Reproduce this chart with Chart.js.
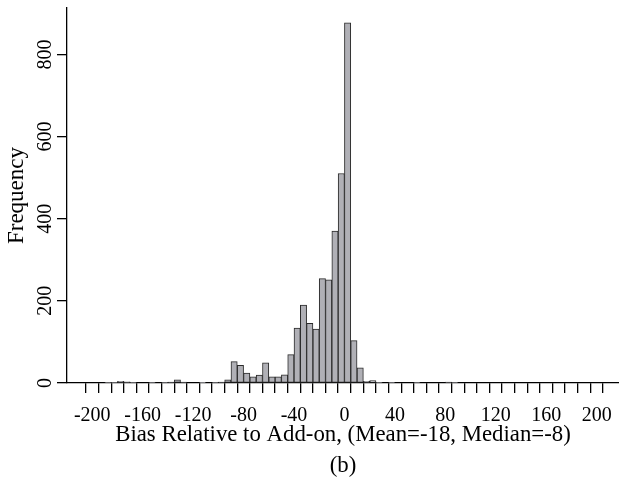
<!DOCTYPE html>
<html>
<head>
<meta charset="utf-8">
<script src="https://cdn.jsdelivr.net/npm/chart.js@4/dist/chart.umd.min.js"></script>
<style>
  html, body { margin: 0; padding: 0; background: #fff; }
  #wrap { width: 619px; height: 485px; }
</style>
</head>
<body>
<div id="wrap"><canvas id="grafico"></canvas></div>
<script>
// histogram bins (left edge of each 5-wide bin) and counts
const binInicio = [
  -200, -195, -190, -185, -180, -175, -170, -165, -160, -155,
  -150, -145, -140, -135, -130, -125, -120, -115, -110, -105,
  -100, -95, -90, -85, -80, -75, -70, -65, -60, -55,
  -50, -45, -40, -35, -30, -25, -20, -15, -10, -5,
  0, 5, 10, 15, 20, 25, 30, 35, 40, 45,
  50, 55, 60, 65, 70, 75, 80, 85, 90, 95,
  100, 105, 110, 115, 120, 125, 130, 135, 140, 145,
  150, 155, 160, 165, 170, 175, 180, 185, 190, 195
];
const frequencias = [
  0, 0, 1, 1, 4, 3, 1, 0, 0, 1,
  0, 1, 2, 8, 2, 0, 0, 1, 0, 1,
  2, 8, 52, 43, 24, 15, 19, 49, 15, 15,
  20, 69, 134, 190, 145, 131, 254, 251, 370, 510,
  877, 103, 37, 4, 6, 1, 0, 1, 0, 0,
  0, 1, 0, 0, 0, 0, 2, 1, 0, 0,
  0, 0, 0, 0, 0, 0, 0, 0, 0, 0,
  0, 0, 0, 0, 0, 0, 0, 0, 0, 0
];
const larguraBin = 5;

// axis ticks
const xTicksRotulados = [-200, -160, -120, -80, -40, 0, 40, 80, 120, 160, 200];
const xTicks = [
  -200, -190, -180, -170, -160, -150, -140, -130, -120, -110,
  -100, -90, -80, -70, -60, -50, -40, -30, -20, -10,
  0, 10, 20, 30, 40, 50, 60, 70, 80, 90,
  100, 110, 120, 130, 140, 150, 160, 170, 180, 190, 200
];
const yTicks = [0, 200, 400, 600, 800];

const tituloX = 'Bias Relative to Add-on, (Mean=-18, Median=-8)';
const legenda = '(b)';
const tituloY = 'Frequency';

const fonte = 'Liberation Serif';

const pontos = binInicio.map((b, i) => ({ x: b + larguraBin / 2, y: frequencias[i] }));

const ctx = document.getElementById('grafico').getContext('2d');
const grafico = new Chart(ctx, {
    type: 'bar',
    data: {
        datasets: [{
            data: pontos,
            backgroundColor: '#b0b0b6',
            borderColor: '#2a2a2a',
            borderWidth: 1,
            borderSkipped: false,
            barPercentage: 1,
            categoryPercentage: 1,
            grouped: false
        }]
    },
    options: {
        responsive: true,
        maintainAspectRatio: false,
        animation: false,
        layout: {
            padding: { top: 7, right: 0, bottom: 0, left: 0 }
        },
        plugins: {
            legend: { display: false },
            tooltip: { enabled: false }
        },
        scales: {
            x: {
                type: 'linear',
                min: -214.7,
                max: 212.4,
                afterBuildTicks: (scale) => {
                    scale.ticks = xTicks.map(v => ({ value: v }));
                },
                afterFit: (scale) => {
                    scale.height = 485 - 383;
                    scale.paddingLeft = 0;
                    scale.paddingRight = 0;
                },
                grid: {
                    drawOnChartArea: false,
                    drawTicks: true,
                    tickLength: 10,
                    color: '#000',
                    lineWidth: 1.3
                },
                border: { display: true, color: '#000', width: 1.3 },
                ticks: {
                    autoSkip: false,
                    maxRotation: 0,
                    minRotation: 0,
                    padding: 11,
                    color: '#000',
                    font: { family: fonte, size: 20 },
                    callback: (v) => xTicksRotulados.includes(v) ? String(v) : ''
                },
                title: {
                    display: true,
                    text: [tituloX, legenda],
                    color: '#000',
                    font: { family: fonte, size: 22.8, lineHeight: '31px' },
                    padding: { top: 0, bottom: 3 }
                }
            },
            y: {
                min: 0,
                max: 913,
                afterBuildTicks: (scale) => {
                    scale.ticks = yTicks.map(v => ({ value: v }));
                },
                afterFit: (scale) => {
                    scale.width = 67;
                },
                grid: {
                    drawOnChartArea: false,
                    drawTicks: true,
                    tickLength: 10,
                    color: '#000',
                    lineWidth: 1.3
                },
                border: { display: true, color: '#000', width: 1.3 },
                ticks: {
                    minRotation: 90,
                    maxRotation: 90,
                    crossAlign: 'center',
                    padding: -4,
                    color: '#000',
                    font: { family: fonte, size: 20 }
                },
                title: {
                    display: true,
                    text: tituloY,
                    color: '#000',
                    font: { family: fonte, size: 23, lineHeight: 1.2 },
                    padding: { top: 3, bottom: 0 }
                }
            }
        }
    }
});
</script>
</body>
</html>
